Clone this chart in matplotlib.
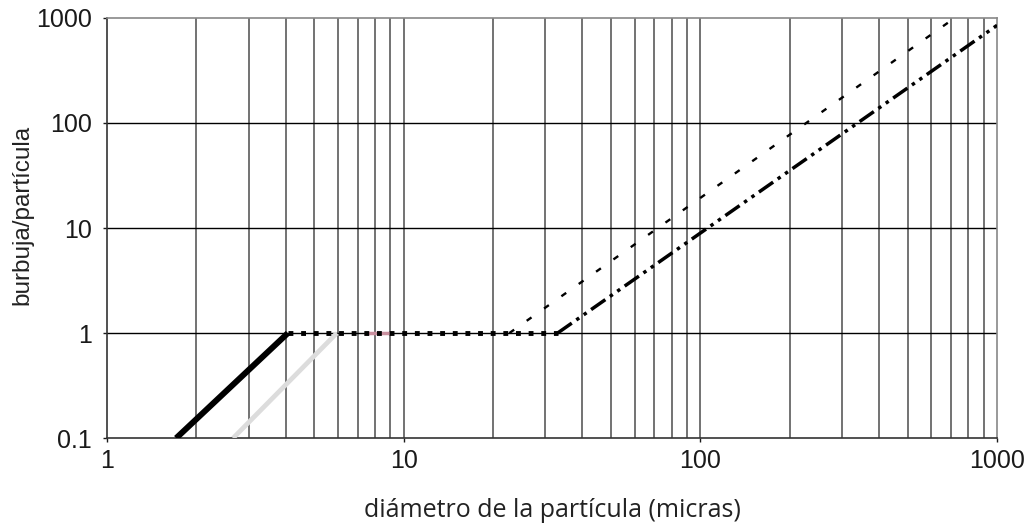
import matplotlib.pyplot as plt
from matplotlib.ticker import FixedLocator, FixedFormatter, NullFormatter

plt.rcParams["font.family"] = "Liberation Sans"

# datos
x_negra = [1.71, 4.07]
y_negra = [0.1, 1]
x_gris = [2.66, 5.95]
y_gris = [0.1, 1]
x_meseta = [4.07, 33]
y_meseta = [1, 1]
x_punteada = [22.7, 720]
y_punteada = [1, 1000]
x_rayapunto = [33, 1000]
y_rayapunto = [1, 850]

xticks = [1, 10, 100, 1000]
xtick_labels = ["1", "10", "100", "1000"]
yticks = [0.1, 1, 10, 100, 1000]
ytick_labels = ["0.1", "1", "10", "100", "1000"]

fig = plt.figure(figsize=(10.29, 5.26), dpi=100)
ax = fig.add_axes([0.104, 0.167, 0.865, 0.799])
ax.set_xscale("log")
ax.set_yscale("log")
ax.set_xlim(1, 1000)
ax.set_ylim(0.1, 1000)

# rejilla
minors = [m * 10**d for d in range(0, 3) for m in range(2, 10)]
for v in minors:
    ax.axvline(v, color="#5a5a5a", lw=1.2, zorder=1)
for v in xticks[1:-1]:
    ax.axvline(v, color="#5a5a5a", lw=1.2, zorder=1)
for v in yticks[1:-1]:
    ax.axhline(v, color="black", lw=1.0, zorder=1)

ax.plot(x_gris, y_gris, color="#dcdcdc", lw=3.4, solid_capstyle="butt", zorder=3)
ax.plot(x_negra, y_negra, color="black", lw=4.3, solid_capstyle="butt", zorder=4)
ax.plot([7.6, 9.0], [1, 1], color="#c9909f", lw=2.5, zorder=2)
ax.plot(x_meseta, y_meseta, color="black", lw=3.5, linestyle=(0, (1, 1.6)),
        dash_capstyle="butt", zorder=5)
ax.plot(x_punteada, y_punteada, color="black", lw=1.7, linestyle=(0, (2.5, 6.5)), zorder=3)
ax.plot(x_rayapunto, y_rayapunto, color="black", lw=2.5,
        linestyle=(0, (5, 1.6, 1, 1.6, 1, 1.6)), zorder=3)

ax.xaxis.set_major_locator(FixedLocator(xticks))
ax.xaxis.set_major_formatter(FixedFormatter(xtick_labels))
ax.xaxis.set_minor_formatter(NullFormatter())
ax.yaxis.set_major_locator(FixedLocator(yticks))
ax.yaxis.set_major_formatter(FixedFormatter(ytick_labels))
ax.yaxis.set_minor_locator(FixedLocator([]))
ax.tick_params(axis="both", which="both", length=3, width=1, labelsize=18,
               colors="#1a1a1a")
ax.tick_params(axis="x", which="minor", length=0)
ax.tick_params(axis="x", pad=5)
ax.tick_params(axis="y", pad=8)

for s in ax.spines.values():
    s.set_color("#888888")
    s.set_linewidth(1.2)
ax.spines["left"].set_color("#333333")
ax.spines["bottom"].set_color("#333333")

ax.set_ylabel("burbuja/partícula", fontsize=17.5, color="#222222")
ax.yaxis.set_label_coords(-0.083, 0.53)
ax.set_xlabel("diámetro de la partícula (micras)", family="Open Sans", fontsize=18,
              labelpad=18, color="#222222")

fig.savefig("out.png", dpi=100)
